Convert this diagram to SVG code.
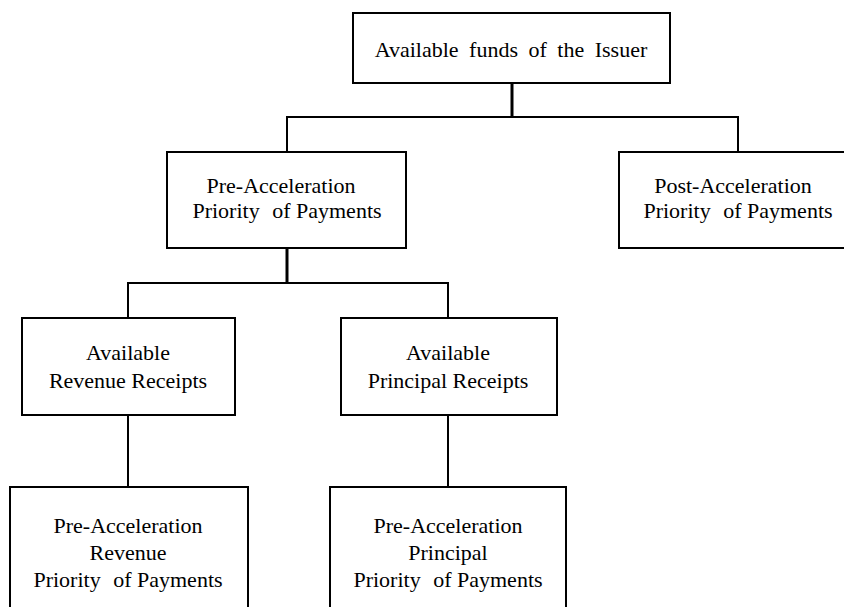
<svg xmlns="http://www.w3.org/2000/svg" width="844" height="607" viewBox="0 0 844 607">
<style>
.box{fill:#fff;stroke:#000;stroke-width:2}
.t{font-family:"Liberation Serif","DejaVu Serif",serif;font-size:22px;fill:#000;text-anchor:middle}
.c{fill:none;stroke:#000;stroke-width:2}
.ct{fill:none;stroke:#000;stroke-width:3}
</style>
<rect width="844" height="607" fill="#fff"/>
<g id="connectors">
<line class="ct" x1="512" y1="83" x2="512" y2="118"/>
<polyline class="c" points="287,152 287,117 738,117 738,152"/>
<line class="ct" x1="287" y1="248" x2="287" y2="284"/>
<polyline class="c" points="128,318 128,283 448,283 448,318"/>
<line class="c" x1="128" y1="415" x2="128" y2="487"/>
<line class="c" x1="448" y1="415" x2="448" y2="487"/>
</g>
<g id="n-issuer">
<rect class="box" x="353" y="13" width="317" height="70"/>
<text class="t" x="511" y="57" word-spacing="5">Available funds of the Issuer</text>
</g>
<g id="n-pre">
<rect class="box" x="167" y="152" width="239" height="96"/>
<text class="t" x="281" y="193">Pre-Acceleration</text>
<text class="t" x="287" y="218">Priority <tspan dx="7">of Payments</tspan></text>
</g>
<g id="n-post">
<rect class="box" x="619" y="152" width="240" height="96"/>
<text class="t" x="733" y="193">Post-Acceleration</text>
<text class="t" x="738" y="218">Priority <tspan dx="7">of Payments</tspan></text>
</g>
<g id="n-rev">
<rect class="box" x="22" y="318" width="213" height="97"/>
<text class="t" x="128" y="360">Available</text>
<text class="t" x="128" y="388">Revenue Receipts</text>
</g>
<g id="n-prin">
<rect class="box" x="341" y="318" width="216" height="97"/>
<text class="t" x="448" y="360">Available</text>
<text class="t" x="448" y="388">Principal Receipts</text>
</g>
<g id="n-prerev">
<rect class="box" x="10" y="487" width="238" height="140"/>
<text class="t" x="128" y="533">Pre-Acceleration</text>
<text class="t" x="128" y="560">Revenue</text>
<text class="t" x="128" y="587">Priority <tspan dx="7">of Payments</tspan></text>
</g>
<g id="n-preprin">
<rect class="box" x="330" y="487" width="236" height="140"/>
<text class="t" x="448" y="533">Pre-Acceleration</text>
<text class="t" x="448" y="560">Principal</text>
<text class="t" x="448" y="587">Priority <tspan dx="7">of Payments</tspan></text>
</g>
</svg>
